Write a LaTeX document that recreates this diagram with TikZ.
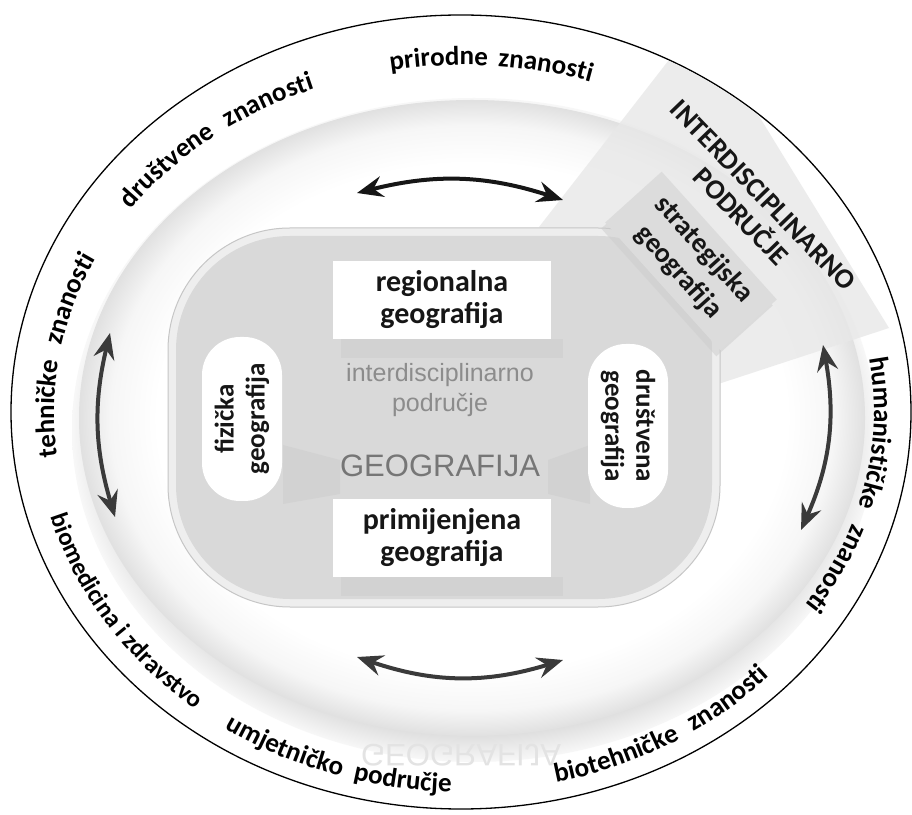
\documentclass[tikz,border=0pt]{standalone}
\usepackage{fontspec}
\setmainfont{Carlito}
\newfontfamily\geosans{Liberation Sans}
\usepackage{tikz}
\usetikzlibrary{arrows.meta,decorations.text}
\definecolor{geoInk}{RGB}{22,22,22}
\definecolor{geoArrow}{RGB}{58,58,58}
\definecolor{geoPlate}{RGB}{217,217,217}
\definecolor{geoRim}{RGB}{238,238,238}
\definecolor{geoBand}{RGB}{232,232,232}
\definecolor{geoStrat}{RGB}{220,220,220}
\definecolor{geoTitle}{RGB}{118,118,118}
\definecolor{geoSub}{RGB}{140,140,140}
\pgfdeclareradialshading{geoRimShade}{\pgfpointorigin}{color(0bp)=(white); color(22.5bp)=(gray!30); color(25bp)=(gray!6); color(50bp)=(gray!6)}
\pgfdeclareradialshading{geoDiscShade}{\pgfpointorigin}{color(0bp)=(white); color(20bp)=(white); color(23bp)=(gray!7); color(25bp)=(gray!24); color(50bp)=(gray!24)}
\newcommand{\geoRing}{\fontsize{27}{29}\selectfont\bfseries}
\newcommand{\geoRingSmall}{\fontsize{25}{27}\selectfont\bfseries}

\begin{document}
\begin{tikzpicture}[x=1pt,y=1pt,
    geobox/.style={fill=white, minimum width=218pt, minimum height=78pt, align=center, inner sep=2pt, text=geoInk, font=\fontsize{30}{32}\selectfont\bfseries},
    geopill/.style={fill=white, rounded corners=38pt, minimum width=164pt, minimum height=80pt, align=center, inner sep=2pt, text=geoInk, font=\fontsize{27}{31}\selectfont\bfseries},
    geoshadow/.style={fill=gray!45, opacity=.35},
    geoarrow/.style={line width=4pt, <->, >={Stealth[length=26pt,width=21pt,inset=9pt]}}]
    \useasboundingbox (0,0) rectangle (912,814);
    \fill[white] (0,0) rectangle (912,814);
    \draw[black, line width=1.3pt, fill=white] (461,402) ellipse [x radius=450, y radius=397];
    \shade[shading=geoRimShade] (474,384) ellipse [x radius=402, y radius=332];
    \shade[shading=geoDiscShade] (472,396) ellipse [x radius=393, y radius=318];
    \begin{scope}
        \clip (461,402) ellipse [x radius=449, y radius=396];
        \fill[geoBand, opacity=.8] (700,794) -- (889,486) -- (700,424) -- (539,587) -- cycle;
    \end{scope}
    \begin{scope}[shift={(461,59)}, yscale=-1]
        \node[transform shape, text=gray!22, font=\geosans\fontsize{31}{31}\selectfont] (geoMirror) at (0,0) {GEOGRAFIJA};
    \end{scope}

    \draw[rounded corners=122pt, fill=geoRim, draw=gray!45, line width=1pt] (168,207) rectangle (720,586);
    \fill[rounded corners=114pt, geoPlate] (176,215) rectangle (712,578);
    \fill[geoshadow] (341,456) rectangle (563,475);
    \fill[geoshadow] (341,218) rectangle (563,237);
    \fill[geoshadow] (283,369) -- (340,354) -- (340,320) -- (283,310) -- cycle;
    \fill[geoshadow] (590,369) -- (548,354) -- (548,320) -- (590,310) -- cycle;

    \node[geobox] (regional) at (442,514) {regionalna\\geografija};
    \node[geobox] (applied) at (442,276) {primijenjena\\geografija};
    \node[geopill, rotate=90] (physical) at (242,395) {fizička\\geografija};
    \node[geopill, rotate=-90] (social) at (628,388) {društvena\\geografija};
    \node[align=center, text=geoSub, font=\geosans\fontsize{25}{30}\selectfont] (interField) at (440,424) {interdisciplinarno\\područje};
    \node[text=geoTitle, font=\geosans\fontsize{31}{31}\selectfont] (geography) at (440,348) {GEOGRAFIJA};

    \node[fill=gray!40, opacity=.5, rotate=-48, minimum width=172pt, minimum height=76pt] (strategicShadow) at (687,547) {};
    \node[fill=geoStrat, rotate=-48, minimum width=172pt, minimum height=76pt, align=center, text=geoInk, font=\fontsize{28}{34}\selectfont\bfseries] (strategic) at (691,553) {strategijska\\geografija};
    \node[rotate=-46, align=center, text=geoInk, font=\fontsize{28}{31}\selectfont\bfseries] (interZone) at (752,608) {INTERDISCIPLINARNO\\PODRUČJE};

    \coordinate (topWest) at (357,621);
    \coordinate (topEast) at (563,614);
    \coordinate (bottomWest) at (357,157);
    \coordinate (bottomEast) at (563,154);
    \coordinate (leftSouth) at (115,297);
    \coordinate (leftNorth) at (110,481);
    \coordinate (rightSouth) at (801,284);
    \coordinate (rightNorth) at (823,469);
    \draw[geoarrow, geoInk] (topWest) to[bend left=16] (topEast);
    \draw[geoarrow, geoArrow] (bottomWest) to[bend right=18] (bottomEast);
    \draw[geoarrow, geoArrow] (leftSouth) to[bend left=15] (leftNorth);
    \draw[geoarrow, geoArrow] (rightSouth) to[bend right=17] (rightNorth);

    \path[decorate, decoration={text along path, text align=center, text={|\geoRing|prirodne{\hspace*{4pt}} znanosti}}]
        ([shift={(121:410 and 347)}]464,402) arc[start angle=121, end angle=51, x radius=410, y radius=347];
    \path[decorate, decoration={text along path, text align=center, text={|\geoRing|društvene{\hspace*{9pt}} znanosti}}]
        ([shift={(164:410 and 347)}]464,402) arc[start angle=164, end angle=94, x radius=410, y radius=347];
    \path[decorate, decoration={text along path, text align=center, text={|\geoRing|tehničke{\hspace*{9pt}} znanosti}}]
        ([shift={(206:410 and 347)}]464,402) arc[start angle=206, end angle=136, x radius=410, y radius=347];
    \path[decorate, decoration={text along path, text align=center, text={|\geoRing|humanističke{\hspace*{12pt}} znanosti}}]
        ([shift={(23:410 and 347)}]464,402) arc[start angle=23, end angle=-47, x radius=410, y radius=347];
    \path[decorate, decoration={text along path, text align=center, text={|\geoRingSmall|biomedicina i zdravstvo}}]
        ([shift={(178:428 and 380)}]462,402) arc[start angle=178, end angle=248, x radius=428, y radius=380];
    \path[decorate, decoration={text along path, text align=center, text={|\geoRing|umjetničko{\hspace*{6pt}} područje}}]
        ([shift={(217:428 and 380)}]462,402) arc[start angle=217, end angle=287, x radius=428, y radius=380];
    \path[decorate, decoration={text along path, text align=center, text={|\geoRing|biotehničke{\hspace*{9pt}} znanosti}}]
        ([shift={(265:428 and 380)}]462,402) arc[start angle=265, end angle=335, x radius=428, y radius=380];
\end{tikzpicture}
\end{document}
